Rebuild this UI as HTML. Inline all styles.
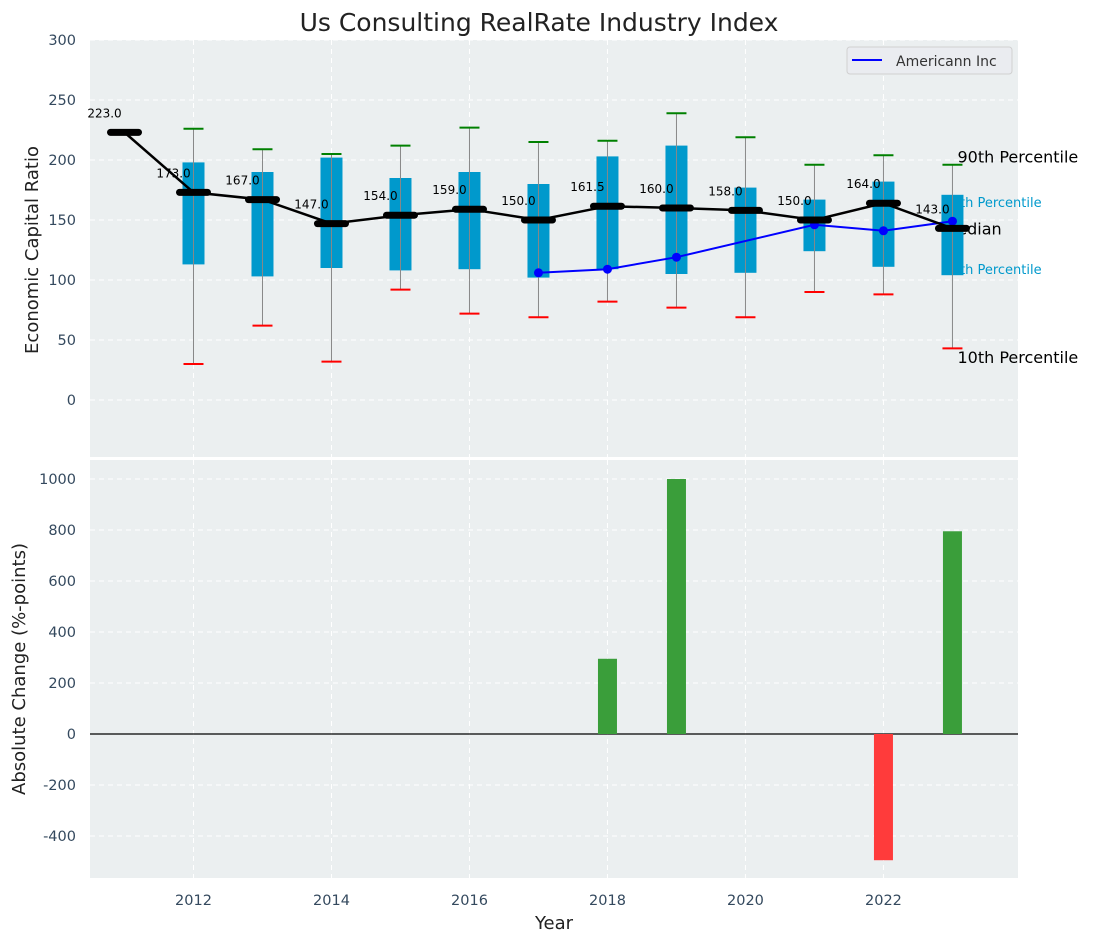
<!DOCTYPE html>
<html><head><meta charset="utf-8"><style>
body{margin:0;background:#fff;}
svg text{font-family:"DejaVu Sans","Liberation Sans",sans-serif;}
</style></head><body>
<svg id="chart" width="1093" height="942" xmlns="http://www.w3.org/2000/svg"></svg>
<script>
const years=[2011,2012,2013,2014,2015,2016,2017,2018,2019,2020,2021,2022,2023];
const medians=[223,173,167,147,154,159,150,161.5,160,158,150,164,143];
const p25=[null,113,103,110,108,109,102,109,105,106,124,111,104];
const p75=[null,198,190,202,185,190,180,203,212,177,167,182,171];
const p90=[null,226,209,205,212,227,215,216,239,219,196,204,196];
const p10=[null,30,62,32,92,72,69,82,77,69,90,88,43];
const company=[null,null,null,null,null,null,106,109,119,null,146,141,149];
const changes=[0,0,0,0,0,0,0,295,1000,0,0,-495,795];
const yTicksTop=[0,50,100,150,200,250,300];
const yTicksBot=[-400,-200,0,200,400,600,800,1000];
const xTicks=[2012,2014,2016,2018,2020,2022];

const NS="http://www.w3.org/2000/svg";
const svg=document.getElementById('chart');
function mk(tag,attrs,parent,txt){const e=document.createElementNS(NS,tag);for(const k in attrs)e.setAttribute(k,attrs[k]);if(txt!==undefined)e.textContent=txt;(parent||svg).appendChild(e);return e;}
const L=90,R=1018;
const x=v=>L+(v-2010.5)*(R-L)/(2023.95-2010.5);
const yT=v=>400-v*1.2;
const yB=v=>734-v*0.255;

let t=mk('text',{x:539,y:31,'font-size':25,'text-anchor':'middle',fill:'#222'},svg,'Us Consulting RealRate Industry Index');


let bg=mk('rect',{x:L,y:40,width:R-L,height:417,fill:'#ebeff0'});

let bg2=mk('rect',{x:L,y:460,width:R-L,height:418,fill:'#ebeff0'});


const grid=mk('g',{stroke:'#fff','stroke-dasharray':'5,4','stroke-width':1});

yTicksTop.forEach(v=>{mk('line',{x1:L,x2:R,y1:yT(v),y2:yT(v)},grid);
 const tt=mk('text',{x:76,y:yT(v)+5,'font-size':14.5,'text-anchor':'end',fill:'#34495e'},svg,String(v));
 });
yTicksBot.forEach(v=>{mk('line',{x1:L,x2:R,y1:yB(v),y2:yB(v)},grid);
 const tt=mk('text',{x:76,y:yB(v)+5,'font-size':14.5,'text-anchor':'end',fill:'#34495e'},svg,String(v));
 });
xTicks.forEach(v=>{mk('line',{x1:x(v),x2:x(v),y1:40,y2:457},grid);mk('line',{x1:x(v),x2:x(v),y1:460,y2:878},grid);
 const tt=mk('text',{x:x(v),y:905,'font-size':14.5,'text-anchor':'middle',fill:'#34495e'},svg,String(v));
 });

t=mk('text',{x:0,y:0,'font-size':18,'text-anchor':'middle',fill:'#222',transform:'translate(38,250) rotate(-90)'},svg,'Economic Capital Ratio');

t=mk('text',{x:0,y:0,'font-size':18,'text-anchor':'middle',fill:'#222',transform:'translate(25,669) rotate(-90)'},svg,'Absolute Change (%-points)');

t=mk('text',{x:554,y:929,'font-size':18,'text-anchor':'middle',fill:'#222'},svg,'Year');


const lx=x(2023)+5;
[['90th Percentile',yT(203)+6,16,'#000',lx],['75th Percentile',yT(165)+5,13,'#0099cc',lx-14],['Median',yT(143)+6,16,'#000',lx-14],['25th Percentile',yT(109)+5,13,'#0099cc',lx-14],['10th Percentile',yT(36)+6,16,'#000',lx]].forEach(d=>{
 const e=mk('text',{x:d[4],y:d[1],'font-size':d[2],fill:d[3]},svg,d[0]);
 });

years.forEach((yr,i)=>{
 if(p25[i]===null)return;
 const g=mk('g',{});
 
 const cx=x(yr);
 mk('rect',{x:cx-11,y:yT(p75[i]),width:22,height:yT(p25[i])-yT(p75[i]),fill:'#0099cc'},g);
 mk('line',{x1:cx,x2:cx,y1:yT(p90[i]),y2:yT(p10[i]),stroke:'#888','stroke-width':1},g);
 mk('line',{x1:cx-10,x2:cx+10,y1:yT(p90[i]),y2:yT(p90[i]),stroke:'#008000','stroke-width':2},g);
 mk('line',{x1:cx-10,x2:cx+10,y1:yT(p10[i]),y2:yT(p10[i]),stroke:'#ff0000','stroke-width':2},g);
});

let pts=[];years.forEach((yr,i)=>{if(company[i]!==null)pts.push(x(yr)+','+yT(company[i]));});
let cl=mk('polyline',{points:pts.join(' '),fill:'none',stroke:'#0000ff','stroke-width':2});

years.forEach((yr,i)=>{if(company[i]===null)return;
 const c=mk('circle',{cx:x(yr),cy:yT(company[i]),r:4.5,fill:'#0000ff'});
 });

let ml=mk('polyline',{points:years.map((yr,i)=>x(yr)+','+yT(medians[i])).join(' '),fill:'none',stroke:'#000','stroke-width':2.5});

years.forEach((yr,i)=>{
 const m=mk('line',{x1:x(yr)-14,x2:x(yr)+14,y1:yT(medians[i]),y2:yT(medians[i]),stroke:'#000','stroke-width':7,'stroke-linecap':'round'});
 
 const l=mk('text',{x:x(yr)-20,y:yT(medians[i])-15,'font-size':12,'text-anchor':'middle',fill:'#000'},svg,medians[i].toFixed(1));
 
});

let zl=mk('line',{x1:L,x2:R,y1:yB(0),y2:yB(0),stroke:'#000','stroke-width':1.2});

years.forEach((yr,i)=>{const v=changes[i];if(!v)return;
 const b=mk('rect',{x:x(yr)-9.5,y:Math.min(yB(v),yB(0)),width:19,height:Math.abs(yB(v)-yB(0)),fill:v>0?'#3a9e3a':'#ff3b3b'});
 });

const lg=mk('g',{});

mk('rect',{x:847,y:47,width:165,height:27,rx:3,fill:'#eaecf0',stroke:'#d0d0d0'},lg);
mk('line',{x1:852,x2:882,y1:60,y2:60,stroke:'#0000ff','stroke-width':2},lg);
mk('text',{x:896,y:66,'font-size':14,fill:'#333'},lg,'Americann Inc');
</script>
</body></html>
